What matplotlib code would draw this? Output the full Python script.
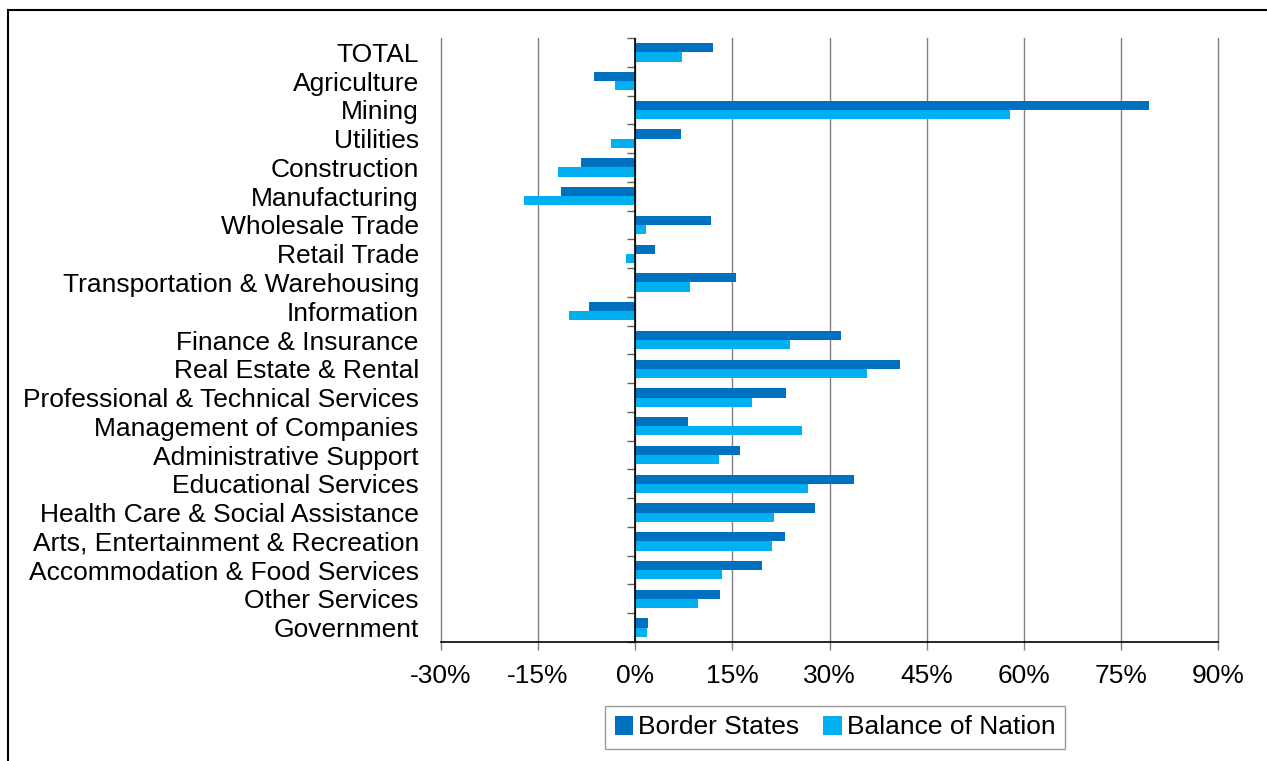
import numpy as np
import matplotlib.pyplot as plt
from matplotlib.lines import Line2D

plt.rcParams['font.family'] = ['Liberation Sans', 'DejaVu Sans']

# 업종별 변화율 (%)
industries = ["TOTAL", "Agriculture", "Mining", "Utilities", "Construction",
              "Manufacturing", "Wholesale Trade", "Retail Trade",
              "Transportation & Warehousing", "Information", "Finance & Insurance",
              "Real Estate & Rental", "Professional & Technical Services",
              "Management of Companies", "Administrative Support",
              "Educational Services", "Health Care & Social Assistance",
              "Arts, Entertainment & Recreation", "Accommodation & Food Services",
              "Other Services", "Government"]
border_states = [12.0, -6.3, 79.4, 7.0, -8.4, -11.4, 11.7, 3.0, 15.5, -7.2, 31.8,
                 40.9, 23.3, 8.2, 16.2, 33.8, 27.7, 23.2, 19.5, 13.1, 2.0]
balance_nation = [7.2, -3.2, 57.9, -3.8, -12.0, -17.2, 1.7, -1.4, 8.4, -10.2, 23.9,
                  35.8, 18.1, 25.8, 13.0, 26.7, 21.4, 21.1, 13.4, 9.7, 1.8]
x_ticks = [-30, -15, 0, 15, 30, 45, 60, 75, 90]

dark = '#0070C0'
light = '#00B0F0'

fig = plt.figure(figsize=(12.67, 7.61), dpi=100)
ax = fig.add_axes([441 / 1267, 1 - 642 / 761, 777 / 1267, 604 / 761])

y = np.arange(len(industries))
h = 0.32
ax.barh(y - h / 2, border_states, height=h, color=dark, label="Border States", zorder=3)
ax.barh(y + h / 2, balance_nation, height=h, color=light, label="Balance of Nation", zorder=3)

ax.set_xlim(-30, 90)
ax.set_ylim(len(industries) - 0.5, -0.5)

# x축
ax.set_xticks(x_ticks)
ax.set_xticklabels([f"{t}%" for t in x_ticks], fontsize=19)
ax.tick_params(axis='x', direction='out', length=6, width=1, color='#808080', pad=10)
ax.xaxis.grid(True, color='#808080', linewidth=1, zorder=0)
for gl in ax.get_xgridlines():
    gl.set_clip_on(False)

# y축 라벨은 왼쪽에
ax.set_yticks(y)
ax.set_yticklabels(industries, fontsize=19)
ax.tick_params(axis='y', length=0, pad=16)

for s in ['top', 'right', 'left']:
    ax.spines[s].set_visible(False)
ax.spines['bottom'].set_color('black')
ax.spines['bottom'].set_linewidth(1.2)

# 0% 세로선과 눈금
ax.axvline(0, color='black', linewidth=1.2, zorder=4)
sec = ax.secondary_yaxis(30 / 120)
sec.set_yticks(np.arange(len(industries) + 1) - 0.5)
sec.set_yticklabels([])
sec.tick_params(axis='y', direction='out', length=6, width=1, color='#606060')
sec.spines['left'].set_visible(False)

fig.legend(loc='center', bbox_to_anchor=(835 / 1267, 1 - 727.5 / 761), ncol=2,
           fontsize=19, frameon=True, fancybox=False, edgecolor='#808080',
           handlelength=0.7, handleheight=0.7, handletextpad=0.2,
           columnspacing=0.9, borderpad=0.35, borderaxespad=0)

# 바깥 테두리
fig.add_artist(Line2D([8 / 1267, 1], [1 - 9.5 / 761, 1 - 9.5 / 761],
                      transform=fig.transFigure, color='black', linewidth=1.5))
fig.add_artist(Line2D([8 / 1267, 8 / 1267], [0, 1 - 9.5 / 761],
                      transform=fig.transFigure, color='black', linewidth=1.5))

plt.savefig("out.png", dpi=100)
